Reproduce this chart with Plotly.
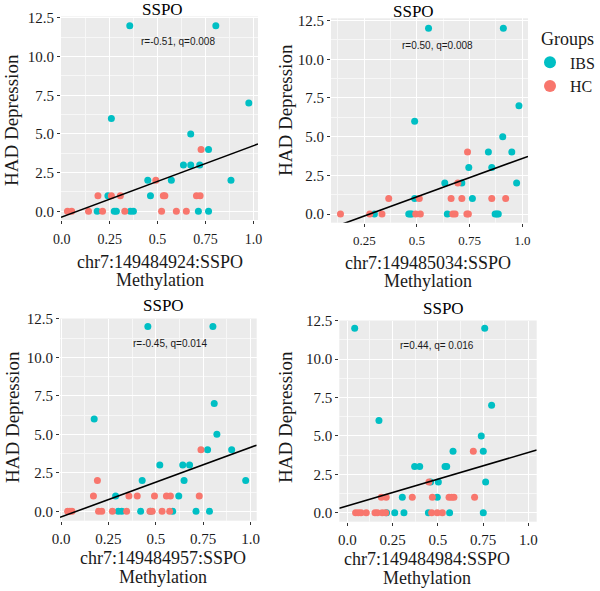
import numpy as np
import plotly.graph_objects as go

# ---------------- data ----------------
probes = ["chr7:149484924:SSPO", "chr7:149485034:SSPO", "chr7:149484957:SSPO", "chr7:149484984:SSPO"]
stats_text = ["r=-0.51, q=0.008", "r=0.50, q=0.008", "r=-0.45, q=0.014", "r=0.44, q= 0.016"]

p1_ibs_x = [0.355, 0.804, 0.259, 0.976, 0.673, 0.766, 0.635, 0.673, 0.720, 0.449, 0.572, 0.883, 0.241, 0.463,
            0.185, 0.274, 0.285, 0.358, 0.374, 0.713, 0.766]
p1_ibs_y = [12, 12, 6, 7, 5, 4, 3, 3, 3, 2, 2, 2, 1, 1, 0, 0, 0, 0, 0, 0, 0]
p1_hc_x = [0.727, 0.491, 0.189, 0.259, 0.306, 0.530, 0.538, 0.703, 0.722,
           0.030, 0.052, 0.140, 0.213, 0.329, 0.521, 0.598, 0.650]
p1_hc_y = [4, 2, 1, 1, 1, 1, 1, 1, 1, 0, 0, 0, 0, 0, 0, 0, 0]

p2_ibs_x = [0.555, 0.910, 0.489, 0.984, 0.907, 0.839, 0.950, 0.746, 0.855, 0.632, 0.713, 0.973, 0.489, 0.763,
            0.298, 0.461, 0.468, 0.476, 0.644, 0.871, 0.879, 0.886]
p2_ibs_y = [12, 12, 6, 7, 5, 4, 4, 3, 3, 2, 2, 2, 1, 1, 0, 0, 0, 0, 0, 0, 0, 0]
p2_hc_x = [0.740, 0.694, 0.366, 0.511, 0.662, 0.713, 0.855, 0.921,
           0.137, 0.276, 0.334, 0.494, 0.516, 0.670, 0.681, 0.737, 0.744]
p2_hc_y = [4, 2, 1, 1, 1, 1, 1, 1, 0, 0, 0, 0, 0, 0, 0, 0, 0]

p3_ibs_x = [0.458, 0.801, 0.175, 0.808, 0.822, 0.773, 0.900, 0.521, 0.642, 0.678, 0.428, 0.649, 0.974, 0.288,
            0.621, 0.302, 0.320, 0.420, 0.472, 0.589, 0.712, 0.783]
p3_ibs_y = [12, 12, 6, 7, 5, 4, 4, 3, 3, 3, 2, 2, 2, 1, 1, 0, 0, 0, 0, 0, 0, 0]
p3_hc_x = [0.738, 0.192, 0.171, 0.358, 0.402, 0.493, 0.556, 0.577, 0.729,
           0.035, 0.047, 0.058, 0.198, 0.215, 0.271, 0.346, 0.469, 0.481, 0.533, 0.573]
p3_hc_y = [4, 2, 1, 1, 1, 1, 1, 1, 1, 0, 0, 0, 0, 0, 0, 0, 0, 0, 0, 0]

p4_ibs_x = [0.041, 0.759, 0.175, 0.797, 0.740, 0.584, 0.751, 0.372, 0.400, 0.540, 0.549, 0.460, 0.503, 0.764,
            0.304, 0.497, 0.217, 0.262, 0.313, 0.448, 0.565, 0.751]
p4_ibs_y = [12, 12, 6, 7, 5, 4, 4, 3, 3, 3, 3, 2, 2, 2, 1, 1, 0, 0, 0, 0, 0, 0]
p4_hc_x = [0.696, 0.451, 0.188, 0.215, 0.359, 0.470, 0.562, 0.576, 0.589, 0.703,
           0.046, 0.061, 0.076, 0.105, 0.153, 0.166, 0.193, 0.212, 0.466, 0.497, 0.525]
p4_hc_y = [4, 2, 1, 1, 1, 1, 1, 1, 1, 1, 0, 0, 0, 0, 0, 0, 0, 0, 0, 0, 0]

fit_intercepts = [-0.37, -1.37, -0.37, 0.44]
fit_slopes = [4.61, 4.96, 4.52, 3.48]

x_tick_vals = [0.0, 0.25, 0.5, 0.75, 1.0]
x_tick_text = ["0.0", "0.25", "0.5", "0.75", "1.0"]
y_tick_vals = [0.0, 2.5, 5.0, 7.5, 10.0, 12.5]
y_tick_text = ["0.0", "2.5", "5.0", "7.5", "10.0", "12.5"]

groups = ["IBS", "HC"]
colors = {"IBS": "#00BFC4", "HC": "#F8766D"}

panels = [
    (p1_ibs_x, p1_ibs_y, p1_hc_x, p1_hc_y),
    (p2_ibs_x, p2_ibs_y, p2_hc_x, p2_hc_y),
    (p3_ibs_x, p3_ibs_y, p3_hc_x, p3_hc_y),
    (p4_ibs_x, p4_ibs_y, p4_hc_x, p4_hc_y),
]

# ---------------- layout geometry (pixels) ----------------
W, H = 600, 591
px_x = [(61, 258), (331, 528), (60, 256.7), (339.3, 536.7)]
px_y = [(16.5, 220), (18.3, 222.7), (318.5, 520.7), (320.5, 521.7)]
x_ranges = [(-0.0037, 1.024), (0.092, 1.027), (-0.0053, 1.032), (-0.044, 1.046)]
y_ranges = [(-0.562, 12.59), (-0.562, 12.65), (-0.61, 12.52), (-0.586, 12.51)]
xtick_size = [14, 13, 15, 15]
xtick_standoff = [3, 3, 1, 1]

SERIF = "Liberation Serif"
SANS = "Liberation Sans"

fig = go.Figure()
layout = dict(
    width=W, height=H, autosize=False,
    margin=dict(l=0, r=0, t=0, b=0, pad=0, autoexpand=False),
    paper_bgcolor="white", plot_bgcolor="#EBEBEB",
    font=dict(family=SERIF, color="#1a1a1a"),
    showlegend=True,
    legend=dict(
        title=dict(text="&nbsp;&nbsp;Groups", font=dict(family=SERIF, size=18, color="#1a1a1a")),
        font=dict(family=SERIF, size=16, color="#1a1a1a"),
        x=530 / W, y=1 - 22 / H, xanchor="left", yanchor="top",
        bgcolor="rgba(0,0,0,0)", itemwidth=30, tracegroupgap=0, itemsizing="constant",
    ),
)
annotations = []

for i in range(4):
    sx = "" if i == 0 else str(i + 1)
    xa, ya = "x" + sx, "y" + sx
    ibs_x, ibs_y, hc_x, hc_y = panels[i]
    for g, gx, gy in (("IBS", ibs_x, ibs_y), ("HC", hc_x, hc_y)):
        fig.add_trace(go.Scatter(
            x=gx, y=gy, mode="markers", name=g, legendgroup=g,
            showlegend=(i == 0),
            marker=dict(color=colors[g], size=7, line=dict(width=0)),
            xaxis=xa, yaxis=ya, cliponaxis=True,
        ))
    lx = np.array(x_ranges[i])
    ly = fit_intercepts[i] + fit_slopes[i] * lx
    fig.add_trace(go.Scatter(
        x=lx, y=ly, mode="lines", showlegend=False,
        line=dict(color="black", width=1.6), xaxis=xa, yaxis=ya, hoverinfo="skip",
    ))

    x0, x1 = px_x[i]
    yt, yb = px_y[i]
    layout["xaxis" + sx] = dict(
        domain=[x0 / W, x1 / W], anchor=ya, range=list(x_ranges[i]),
        tickvals=x_tick_vals, ticktext=x_tick_text,
        tickfont=dict(family=SERIF, size=xtick_size[i], color="#1a1a1a"),
        ticks="outside", ticklen=3, tickcolor="#333333", tickwidth=1,
        ticklabelstandoff=xtick_standoff[i], automargin=False,
        showgrid=True, gridcolor="white", gridwidth=1.1,
        minor=dict(tickvals=[0.125, 0.375, 0.625, 0.875], showgrid=True,
                   gridcolor="#F7F7F7", gridwidth=0.5, ticks=""),
        zeroline=False, showline=False, fixedrange=True,
    )
    layout["yaxis" + sx] = dict(
        domain=[1 - yb / H, 1 - yt / H], anchor=xa, range=list(y_ranges[i]),
        tickvals=y_tick_vals, ticktext=y_tick_text,
        tickfont=dict(family=SERIF, size=15, color="#1a1a1a"),
        ticks="outside", ticklen=3, tickcolor="#333333", tickwidth=1,
        automargin=False,
        showgrid=True, gridcolor="white", gridwidth=1.1,
        minor=dict(tickvals=[1.25, 3.75, 6.25, 8.75, 11.25], showgrid=True,
                   gridcolor="#F7F7F7", gridwidth=0.5, ticks=""),
        zeroline=False, showline=False, fixedrange=True,
    )

# titles and labels (pixel positions)
title_pos = [(162, 9), (413, 12), (163, 305), (443, 308)]
stat_pos = [(178, 42), (437, 45), (170, 343), (437, 345)]
ytitle_pos = [(12, 120), (285, 110), (12, 417), (285, 417)]
xtitle_pos = [(160, 262, 280), (428, 263, 281), (163, 558, 577), (427, 559, 578)]

for i in range(4):
    tx, ty = title_pos[i]
    annotations.append(dict(text="SSPO", x=tx / W, y=1 - ty / H, xref="paper", yref="paper",
                            showarrow=False, xanchor="center", yanchor="middle",
                            font=dict(family=SERIF, size=17, color="black")))
    sx_, sy_ = stat_pos[i]
    annotations.append(dict(text=stats_text[i], x=sx_ / W, y=1 - sy_ / H, xref="paper", yref="paper",
                            showarrow=False, xanchor="center", yanchor="middle",
                            font=dict(family=SANS, size=10, color="#1a1a1a")))
    yx, yy = ytitle_pos[i]
    annotations.append(dict(text="HAD Depression", x=yx / W, y=1 - yy / H, xref="paper", yref="paper",
                            showarrow=False, xanchor="center", yanchor="middle", textangle=-90,
                            font=dict(family=SERIF, size=19, color="#1a1a1a")))
    cx, l1, l2 = xtitle_pos[i]
    annotations.append(dict(text=probes[i], x=cx / W, y=1 - l1 / H, xref="paper", yref="paper",
                            showarrow=False, xanchor="center", yanchor="middle",
                            font=dict(family=SERIF, size=18, color="#1a1a1a")))
    annotations.append(dict(text="Methylation", x=cx / W, y=1 - l2 / H, xref="paper", yref="paper",
                            showarrow=False, xanchor="center", yanchor="middle",
                            font=dict(family=SERIF, size=18, color="#1a1a1a")))

layout["annotations"] = annotations
fig.update_layout(**layout)
fig.write_html("out.html", config={"displayModeBar": False},
               post_script="document.body.style.margin='0';document.body.style.padding='0';")
